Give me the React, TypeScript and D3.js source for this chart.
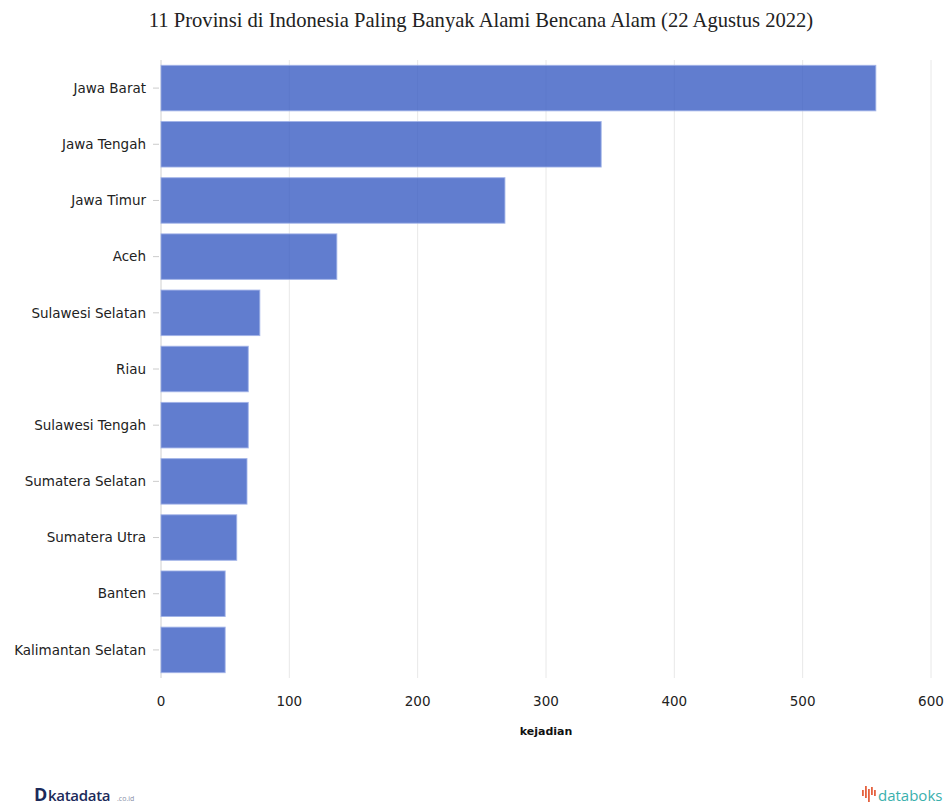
import React from "react";
import * as d3 from "d3";

const provinces = [
  "Jawa Barat",
  "Jawa Tengah",
  "Jawa Timur",
  "Aceh",
  "Sulawesi Selatan",
  "Riau",
  "Sulawesi Tengah",
  "Sumatera Selatan",
  "Sumatera Utra",
  "Banten",
  "Kalimantan Selatan",
];
const events = [557, 343, 268, 137, 77, 68, 68, 67, 59, 50, 50];
const xTicks = [0, 100, 200, 300, 400, 500, 600];

const title = "11 Provinsi di Indonesia Paling Banyak Alami Bencana Alam (22 Agustus 2022)";
const xLabel = "kejadian";

const W = 952;
const H = 808;
const M = { left: 161, right: 20, top: 60, bottom: 130 };

export default function App() {
  const x = d3.scaleLinear().domain([0, 600]).range([M.left, 931]);
  const y = d3
    .scaleBand<string>()
    .domain(provinces)
    .range([M.top, 678])
    .paddingInner(0.19)
    .paddingOuter(0.095);
  const font = "Verdana, 'DejaVu Sans', sans-serif";
  return (
    <svg
      width={W}
      height={H}
      style={{ position: "absolute", left: 0, top: 0, background: "#fff" }}
    >
      <text
        x={481}
        y={27}
        textAnchor="middle"
        fontFamily="'Liberation Serif', 'Times New Roman', serif"
        fontSize={20.6}
        fill="#222"
      >
        {title}
      </text>
      {xTicks.map((t) => (
        <line
          key={"g" + t}
          x1={x(t)}
          x2={x(t)}
          y1={M.top}
          y2={678}
          stroke={t === 0 ? "#d0d0d0" : "#e8e8e8"}
          strokeWidth={1}
        />
      ))}
      {provinces.map((p, i) => (
        <g key={p}>
          <line
            x1={153}
            x2={159}
            y1={y(p)! + y.bandwidth() / 2}
            y2={y(p)! + y.bandwidth() / 2}
            stroke="#ccc"
          />
          <text
            x={146}
            y={y(p)! + y.bandwidth() / 2}
            dy="0.35em"
            textAnchor="end"
            fontFamily={font}
            fontSize={13.5}
            fill="#222"
          >
            {p}
          </text>
          <rect
            x={x(0)}
            y={y(p)}
            width={x(events[i]) - x(0)}
            height={y.bandwidth()}
            fill="rgba(52,88,194,0.78)"
            stroke="rgba(160,178,232,0.85)"
            strokeWidth={1}
          />
        </g>
      ))}
      {xTicks.map((t) => (
        <text
          key={"t" + t}
          x={x(t)}
          y={701}
          dy="0.35em"
          textAnchor="middle"
          fontFamily={font}
          fontSize={13.5}
          fill="#222"
        >
          {t}
        </text>
      ))}
      <text
        x={546}
        y={731}
        dy="0.35em"
        textAnchor="middle"
        fontFamily={font}
        fontSize={11}
        fontWeight="bold"
        fill="#111"
      >
        {xLabel}
      </text>
      <g fontFamily="'Open Sans', 'DejaVu Sans', sans-serif">
        <text x={34} y={801} fontSize={18} fontWeight="bold" fill="#1b2a5a">
          D
        </text>
        <text x={48} y={801} fontSize={15} fontWeight="600" fill="#1b2a5a" letterSpacing={-0.3}>
          katadata
        </text>
        <text x={117} y={801} fontSize={7} fill="#8890a8">
          .co.id
        </text>
        <g fill="#e5623f">
          <rect x={862} y={790} width={1.8} height={6} />
          <rect x={865} y={786} width={1.8} height={12} />
          <rect x={868} y={789} width={1.8} height={13} />
          <rect x={871} y={787} width={1.8} height={8} />
          <rect x={874} y={790} width={1.8} height={6} />
        </g>
        <text x={878} y={801} fontSize={15} fill="#3ab0ad">
          databoks
        </text>
      </g>
    </svg>
  );
}
